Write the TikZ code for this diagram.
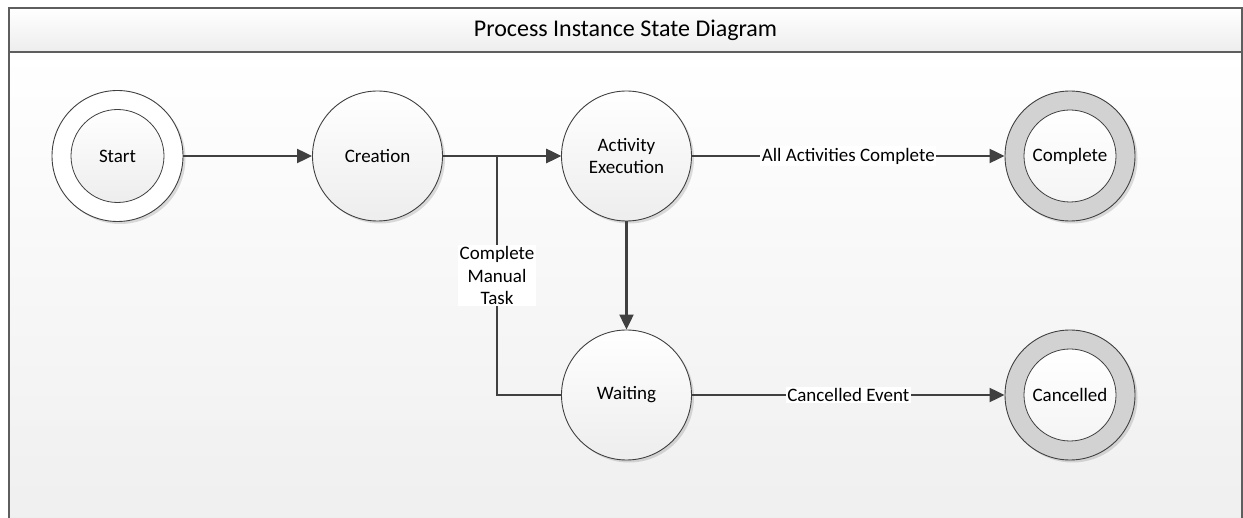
\documentclass[tikz,border=0pt]{standalone}
\usepackage{fontspec}
\setmainfont{Carlito}
\usetikzlibrary{arrows.meta,shadows}
\definecolor{edge}{HTML}{404040}
\definecolor{frameline}{HTML}{5E5E5E}
\definecolor{ring}{HTML}{D2D2D2}
\definecolor{paper}{HTML}{EFEFEF}
\begin{document}
\begin{tikzpicture}[x=1pt,y=-1pt,
  txt/.style={font=\fontsize{19}{22.5}\selectfont, align=center, text=black},
  softshadow/.style={drop shadow={shadow xshift=2.5pt, shadow yshift=-2.5pt, fill=black, opacity=0.13}},
  state/.style={circle, draw=edge, line width=0.9pt, minimum size=130pt, inner sep=0pt,
    top color=white, bottom color=black!7, softshadow, txt},
  outerring/.style={circle, draw=edge, line width=0.9pt, minimum size=131pt, inner sep=0pt,
    fill=white, softshadow},
  innerstate/.style={circle, draw=edge, line width=0.8pt, minimum size=93pt, inner sep=0pt,
    top color=white, bottom color=black!7, txt},
  finalring/.style={circle, draw=edge, line width=0.9pt, minimum size=130pt, inner sep=0pt,
    fill=ring, softshadow},
  finalinner/.style={circle, draw=edge, line width=0.8pt, minimum size=92pt, inner sep=0pt,
    top color=white, bottom color=black!4, txt},
  conn/.style={draw=edge, line width=2.2pt, -{Triangle[length=15pt,width=14pt]}},
  plainconn/.style={draw=edge, line width=2.2pt},
  lbl/.style={fill=white, inner sep=1.5pt, txt},
]
\useasboundingbox (0,0) rectangle (1243,518);

% drawing area and title bar
\fill[top color=white, bottom color=paper] (9,52) rectangle (1242,530);
\fill[top color=white, bottom color=black!7] (9,8) rectangle (1242,52);
\draw[frameline, line width=1.6pt] (9,530) -- (9,8) -- (1242,8) -- (1242,530);
\draw[frameline, line width=1.6pt] (9,52) -- (1242,52);
\node[txt, font=\fontsize{24}{28}\selectfont] (title) at (625.5,30) {Process Instance State Diagram};

% states
\node[outerring] (start) at (117.5,156) {};
\node[innerstate] (startin) at (117.5,156) {Start};
\node[state] (creation) at (377.5,156) {Creation};
\node[state] (activity) at (626.5,156) {Activity\\Execution};
\node[state] (waiting) at (626.5,395) {Waiting};
\node[finalring] (complete) at (1070,156) {};
\node[finalinner] (completein) at (1070,156) {Complete};
\node[finalring] (cancelled) at (1070,395) {};
\node[finalinner] (cancelledin) at (1070,395) {Cancelled};

% bend points of the manual task loop
\coordinate (loopbottom) at (497,395);
\coordinate (looptop) at (497,156);

% transitions
\draw[conn] (start) -- (creation);
\draw[conn] (creation) -- (activity);
\draw[conn] (activity) -- (waiting);
\draw[plainconn] (waiting.west) -- (loopbottom)
  -- node[lbl] (manual) {Complete\\Manual\\Task} (looptop);
\draw[conn] (looptop) -- (activity.west);
\draw[conn] (activity) -- node[lbl] (allact) {All Activities Complete} (complete);
\draw[conn] (waiting) -- node[lbl] (cancelev) {Cancelled Event} (cancelled);
\end{tikzpicture}
\end{document}
